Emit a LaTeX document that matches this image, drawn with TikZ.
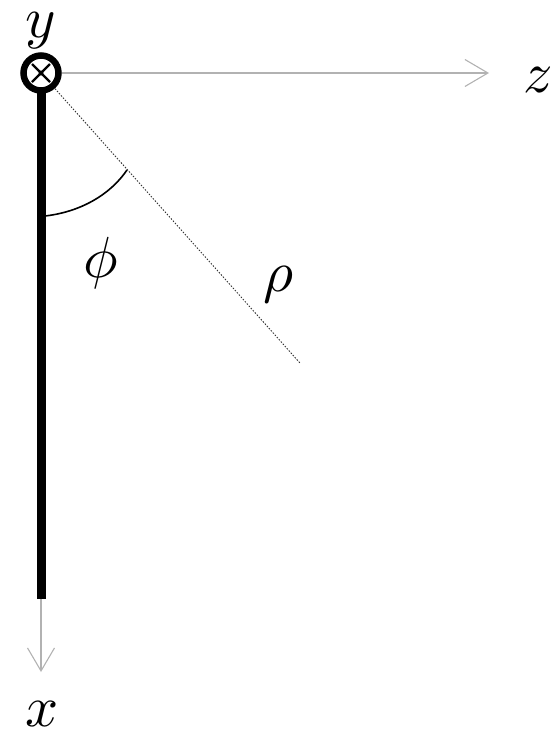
\documentclass[tikz,border=0pt]{standalone}
\usepackage{graphicx}
\usetikzlibrary{arrows.meta,calc}
\newcommand{\biglbl}[1]{\scalebox{5.8}{$#1$}}
\begin{document}
\begin{tikzpicture}[x=1pt,y=-1pt,
  axis/.style={draw=black!30,line width=1.1pt,-{Straight Barb[length=23pt,width=27pt,line width=1.1pt]}},
  lbl/.style={inner sep=0pt}]
\useasboundingbox (0,0) rectangle (552,736);
\coordinate (O) at (41,73);
\coordinate (B) at (41,599);
\coordinate (XE) at (41,672);
\coordinate (ZS) at (62,73);
\coordinate (ZE) at (489,73);
\coordinate (R) at (300,363);
\coordinate (A1) at (45,216);
\coordinate (A2) at (127,170);
% axes
\draw[axis] (ZS) -- (ZE);
\draw[axis] (B) -- (XE);
% rod
\draw[line width=9pt] (O) -- (B);
% dotted radius
\draw[dash pattern=on 1.5pt off 1.5pt,line width=0.9pt,black!80] (O) -- (R);
% angle arc
\draw[line width=1.6pt] (A1) .. controls (80,212) and (110,195) .. (A2);
% y into page
\draw[line width=6.5pt,fill=white] (O) circle (17.5);
\draw[line width=2.2pt] ($(O)+(-9,-9)$) -- ($(O)+(9,9)$);
\draw[line width=2.2pt] ($(O)+(-9,9)$) -- ($(O)+(9,-9)$);
\fill (O) circle (2.5);
% labels
\node[lbl] (ly) at (41,31) {\biglbl{y}};
\node[lbl] (lz) at (538,80) {\biglbl{z}};
\node[lbl] (lx) at (42,714) {\biglbl{x}};
\node[lbl] (lphi) at (101,263) {\biglbl{\phi}};
\node[lbl] (lrho) at (278,285) {\biglbl{\rho}};
\end{tikzpicture}
\end{document}
